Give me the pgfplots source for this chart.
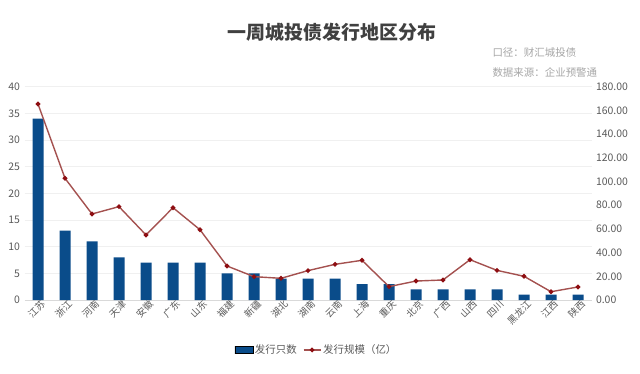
\documentclass[border=0pt]{standalone}
\usepackage{pgfplots}
\pgfplotsset{compat=1.18}
\usepackage{fontspec}
\setmainfont{Noto Sans CJK SC}
\definecolor{barblue}{HTML}{0F62AC}
\definecolor{bardark}{HTML}{0A4C8A}
\definecolor{barlight}{HTML}{1A7BCC}
\definecolor{linered}{HTML}{A4514F}
\definecolor{markred}{HTML}{8E0E12}
\definecolor{ticgray}{HTML}{595959}
\definecolor{titlegray}{HTML}{404040}
\definecolor{subgray}{HTML}{A6A6A6}
\definecolor{gridgray}{HTML}{F0F0F0}
\definecolor{axisgray}{HTML}{D9D9D9}
\begin{document}
\begin{tikzpicture}[x=1bp,y=1bp]
\path[use as bounding box] (0,0) rectangle (640,373);
\node[font=\bfseries\fontsize{19}{21}\selectfont, text=titlegray] at (332,341) {一周城投债发行地区分布};
\node[anchor=west, font=\fontsize{10.5}{12}\selectfont, text=subgray] at (489,320) {口径：财汇城投债};
\node[anchor=west, font=\fontsize{10.5}{12}\selectfont, text=subgray] at (489,301) {数据来源：企业预警通};
\begin{axis}[
  at={(24.5bp,73bp)}, anchor=south west, scale only axis,
  width=567bp, height=213.3bp,
  xmin=-0.5, xmax=20.5, ymin=0, ymax=40,
  ytick={0,5,...,40}, xtick={0,...,20},
  xticklabels={江苏,浙江,河南,天津,安徽,广东,山东,福建,新疆,湖北,湖南,云南,上海,重庆,北京,广西,山西,四川,黑龙江,江西,陕西},
  x tick label style={rotate=45, anchor=north east, font=\fontsize{9.5}{10}\selectfont, text=ticgray, inner sep=1bp, xshift=3bp},
  y tick label style={font=\fontsize{10.5}{12}\selectfont, text=ticgray, anchor=east, xshift=-1bp},
  /pgf/number format/assume math mode=true,
  axis x line*=bottom, x axis line style={draw=axisgray, line width=0.8bp, -},
  axis y line*=left, y axis line style={draw=none},
  major tick length=0pt,
  ymajorgrids, grid style={draw=gridgray, line width=0.6bp},
  ybar, bar width=11bp,
]
\addplot[draw=none, left color=bardark, middle color=barlight, right color=bardark] coordinates {
(0,34) (1,13) (2,11) (3,8) (4,7) (5,7) (6,7) (7,5) (8,5) (9,4) (10,4) (11,4) (12,3) (13,3) (14,2) (15,2) (16,2) (17,2) (18,1) (19,1) (20,1)};
\end{axis}
\begin{axis}[
  at={(24.5bp,73bp)}, anchor=south west, scale only axis,
  width=567bp, height=213.3bp,
  xmin=-0.5, xmax=20.5, ymin=0, ymax=180,
  ytick={0,20,...,180},
  axis x line=none,
  axis y line*=right, y axis line style={draw=none},
  major tick length=0pt,
  y tick label style={font=\fontsize{10.5}{12}\selectfont, text=ticgray, anchor=west, xshift=1bp,
    /pgf/number format/.cd, fixed, fixed zerofill, precision=2},
  /pgf/number format/assume math mode=true,
  legend style={at={(0.515,-0.234)}, anchor=center, draw=none, fill=none,
    font=\fontsize{10.5}{12}\selectfont, text=ticgray, legend columns=2,
    /tikz/every even column/.append style={column sep=4bp}},
]
\addlegendimage{legend image code/.code={\fill[left color=bardark, middle color=barlight, right color=bardark] (0bp,-3.5bp) rectangle (18bp,3.5bp);}}
\addlegendentry{发行只数}
\addplot[color=linered, line width=1.4bp, mark=*, mark size=1.6bp, mark options={fill=markred, draw=markred}] coordinates {
(0,165.4) (1,102.7) (2,72.6) (3,78.8) (4,54.9) (5,77.9) (6,59.3) (7,28.7) (8,19.7) (9,18.3) (10,24.8) (11,30.1) (12,33.5) (13,11.3) (14,16.0) (15,16.9) (16,34.0) (17,25.0) (18,20.0) (19,7.0) (20,11.0)};
\addlegendentry{发行规模（亿）}
\end{axis}
\end{tikzpicture}
\end{document}
